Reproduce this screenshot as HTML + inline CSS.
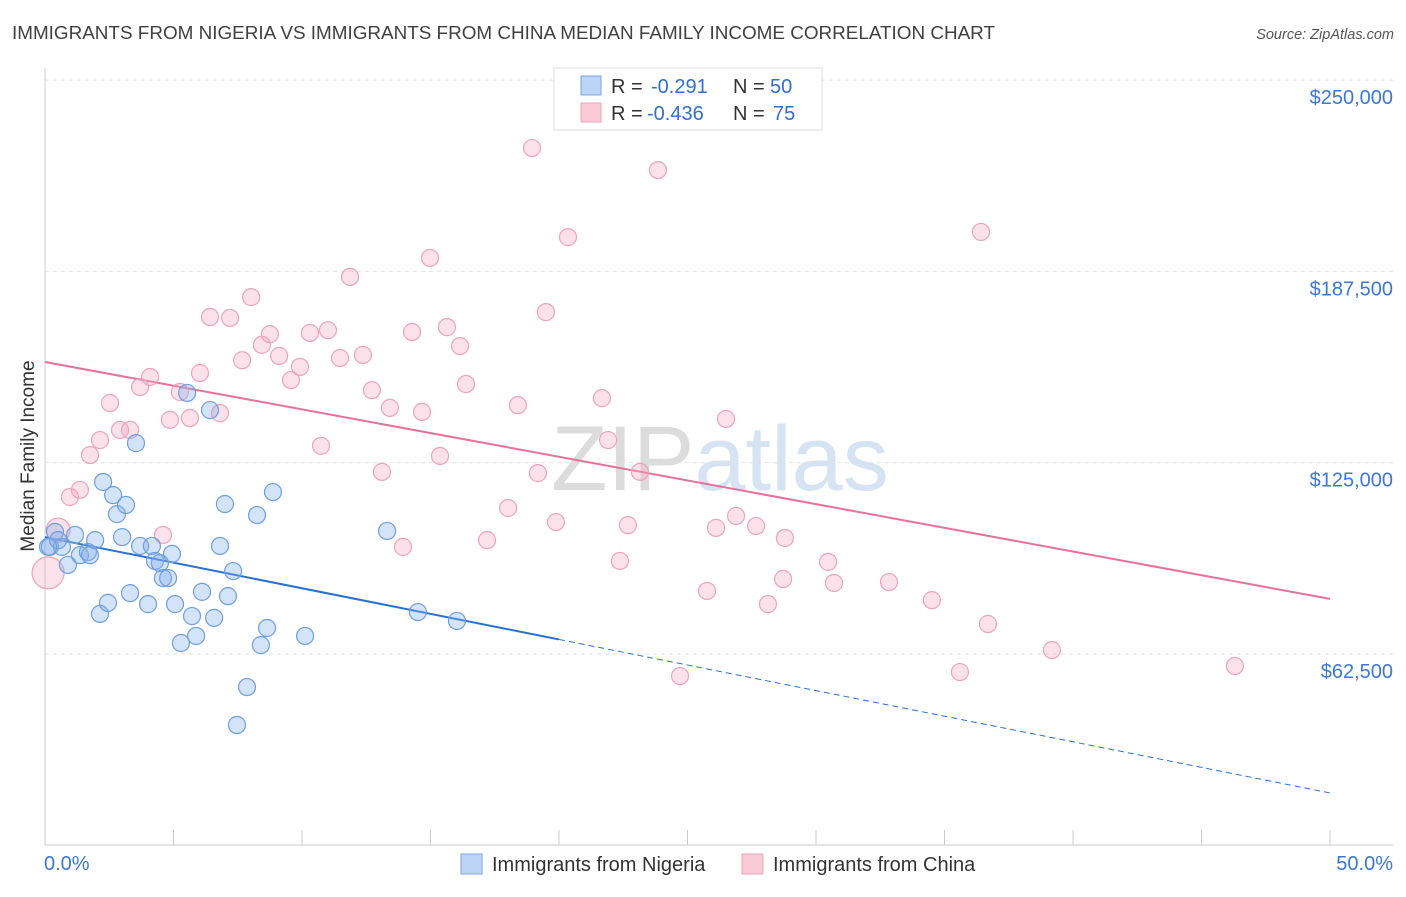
<!DOCTYPE html>
<html><head><meta charset="utf-8"><style>
body{margin:0;background:#fff;font-family:"Liberation Sans",sans-serif;}
svg text{font-family:"Liberation Sans",sans-serif;}
</style></head><body>
<svg id="chart" width="1406" height="892" xmlns="http://www.w3.org/2000/svg">
<text x="12" y="39" font-size="18.8" fill="#404040" textLength="983" lengthAdjust="spacingAndGlyphs">IMMIGRANTS FROM NIGERIA VS IMMIGRANTS FROM CHINA MEDIAN FAMILY INCOME CORRELATION CHART</text>
<text x="1394" y="39" font-size="14.5" fill="#555" text-anchor="end" font-style="italic">Source: ZipAtlas.com</text>
<text x="720" y="490" font-size="92" fill="#e4e4e4" text-anchor="middle" font-family="Liberation Serif"><tspan fill="#dcdcdc">ZIP</tspan><tspan fill="#d5e3f3" font-family="Liberation Sans">atlas</tspan></text>
<g id="grid"></g>
<g id="axes"></g>
<g id="lines"></g>
<g id="points"></g>
<text transform="translate(34,456) rotate(-90)" font-size="19" fill="#333" text-anchor="middle">Median Family Income</text>
<g>
<rect x="554" y="68" width="268" height="62" fill="#fff" stroke="#ddd"/>
<rect x="581" y="76" width="20" height="19" fill="#bcd4f5" stroke="#7aa6e2"/>
<text x="611" y="93" font-size="20" fill="#333">R =</text>
<text x="651" y="93" font-size="20" fill="#2f6fd6">-0.291</text>
<text x="733" y="93" font-size="20" fill="#333">N =</text>
<text x="770" y="93" font-size="20" fill="#2f6fd6">50</text>
<rect x="581" y="103" width="20" height="19" fill="#f9cbd9" stroke="#eea0b8"/>
<text x="611" y="120" font-size="20" fill="#333">R =</text>
<text x="647" y="120" font-size="20" fill="#2f6fd6">-0.436</text>
<text x="733" y="120" font-size="20" fill="#333">N =</text>
<text x="773" y="120" font-size="20" fill="#2f6fd6">75</text>
</g>
<g>
<rect x="461" y="854" width="21" height="20" fill="#bcd4f5" stroke="#7aa6e2"/>
<text x="492" y="871" font-size="20" fill="#333">Immigrants from Nigeria</text>
<rect x="742" y="854" width="21" height="20" fill="#f9cbd9" stroke="#eea0b8"/>
<text x="773" y="871" font-size="20" fill="#333">Immigrants from China</text>
</g>
</svg>
<script>
const yTicks=[62.5,125,187.5,250];
const yTickLabels=["$62,500","$125,000","$187,500","$250,000"];
const xTickLabels=["0.0%","50.0%"];
const nigeriaX=[0.19,0.39,0.66,0.89,1.17,1.36,1.67,1.75,1.95,2.14,2.26,2.45,2.65,2.80,3.00,3.15,3.31,3.54,3.70,4.01,4.16,4.28,4.47,4.59,4.79,4.94,5.06,5.29,5.53,5.72,5.88,6.11,6.42,6.58,6.81,7.00,7.12,7.32,7.47,7.86,8.25,8.40,8.64,8.87,10.12,13.31,14.51,16.03,0.12,0.51];
const nigeriaY=[97.5,102.4,97.5,91.6,101.4,94.8,95.8,94.8,99.7,75.6,118.7,79.2,114.4,108.2,100.7,111.2,82.4,131.4,97.8,78.8,97.8,92.9,92.2,87.3,87.3,95.2,78.8,66.1,147.8,74.9,68.4,82.8,142.2,74.3,97.8,111.5,81.4,89.6,39.3,51.7,107.9,65.4,71.0,115.4,68.4,102.7,76.2,73.3,97.5,99.7];
const chinaX=[0.12,0.51,0.97,1.36,1.75,2.14,2.53,2.92,3.31,3.70,4.09,4.59,4.86,5.25,5.64,6.03,6.42,6.81,7.20,7.67,8.02,8.44,8.75,9.11,9.57,9.92,10.31,10.74,11.01,11.48,11.87,12.37,12.72,13.11,13.42,13.93,14.28,14.67,14.98,15.37,15.64,16.15,16.38,17.20,18.02,18.40,18.95,19.18,19.49,19.88,20.35,21.67,21.91,22.37,22.68,23.15,23.85,24.71,25.76,26.11,26.50,26.89,27.67,28.13,28.72,28.79,30.47,30.70,32.84,34.51,35.60,36.42,36.69,39.18,46.30];
const chinaY=[89.0,103.0,113.8,116.1,127.5,132.4,144.5,135.7,135.7,149.7,153.0,101.4,139.0,148.1,139.6,154.3,172.6,141.2,172.3,158.5,179.1,163.5,167.0,159.9,152.0,156.3,167.4,130.5,168.3,159.2,185.7,160.2,148.7,122.0,142.9,97.5,167.7,141.6,191.9,127.2,169.3,163.1,150.7,99.7,110.2,143.8,227.8,121.6,174.2,105.6,198.7,146.1,132.4,92.9,104.6,122.0,220.6,55.3,83.1,103.7,139.3,107.6,104.3,78.8,87.0,100.4,92.6,85.7,86.0,80.1,56.6,200.4,72.3,63.8,58.6];
const nigeriaTrend=[100.7,17.1]; // values at 0% and 50%
const chinaTrend=[157.9,80.5];
const nigeriaSolidEnd=20;

const NS="http://www.w3.org/2000/svg";
const X=p=>45+p*(1285/50);
const Y=v=>654-(v-62.5)*191.3/62.5;
function mk(tag,attrs,parent){const e=document.createElementNS(NS,tag);for(const k in attrs)e.setAttribute(k,attrs[k]);parent.appendChild(e);return e;}
const grid=document.getElementById('grid'),axes=document.getElementById('axes'),lines=document.getElementById('lines'),pts=document.getElementById('points');
yTicks.forEach((t,i)=>{
  const l=mk('line',{x1:45,x2:1393,y1:Y(t),y2:Y(t),stroke:'#e2e2e2','stroke-dasharray':'4,4'},grid);
  
  
  const tx=mk('text',{x:1393,y:Y(t)+24,'font-size':20,fill:'#3b78d8','text-anchor':'end'},axes);
  tx.textContent=yTickLabels[i];
  
  
});
const axl=mk('line',{x1:45,x2:45,y1:68,y2:845,stroke:'#ccc'},axes);


const axb=mk('line',{x1:45,x2:1393,y1:845,y2:845,stroke:'#ccc'},axes);


for(let i=0;i<=10;i++){const t=mk('line',{x1:X(i*5),x2:X(i*5),y1:830,y2:845,stroke:'#ccc'},axes);
  
  }
[[0,'start',44],[50,'end',1393]].forEach((d,i)=>{const t=mk('text',{x:d[2],y:870,'font-size':20,fill:'#3b78d8','text-anchor':d[1]},axes);t.textContent=xTickLabels[i];
  
  });
const tv=(tr,p)=>tr[0]+(tr[1]-tr[0])*p/50;
let l1=mk('line',{x1:X(0),y1:Y(tv(nigeriaTrend,0)),x2:X(nigeriaSolidEnd),y2:Y(tv(nigeriaTrend,nigeriaSolidEnd)),stroke:'#2a6fd6','stroke-width':2},lines);


let l2=mk('line',{x1:X(nigeriaSolidEnd),y1:Y(tv(nigeriaTrend,nigeriaSolidEnd)),x2:X(50),y2:Y(tv(nigeriaTrend,50)),stroke:'#2a6fd6','stroke-width':1,'stroke-dasharray':'6,4'},lines);


let l3=mk('line',{x1:X(0),y1:Y(chinaTrend[0]),x2:X(50),y2:Y(chinaTrend[1]),stroke:'#e8709a','stroke-width':2},lines);


chinaX.forEach((x,i)=>{const r=i<2?(i==0?16:12):8.5;
  const c=mk('circle',{cx:X(x),cy:Y(chinaY[i]),r:r,fill:'rgba(244,170,195,0.35)',stroke:'#eda3bc','stroke-width':1.2},pts);
  
  });
nigeriaX.forEach((x,i)=>{const c=mk('circle',{cx:X(x),cy:Y(nigeriaY[i]),r:8.5,fill:'rgba(130,175,235,0.35)',stroke:'#6e9fe0','stroke-width':1.2},pts);
  
  });
</script>
</body></html>
